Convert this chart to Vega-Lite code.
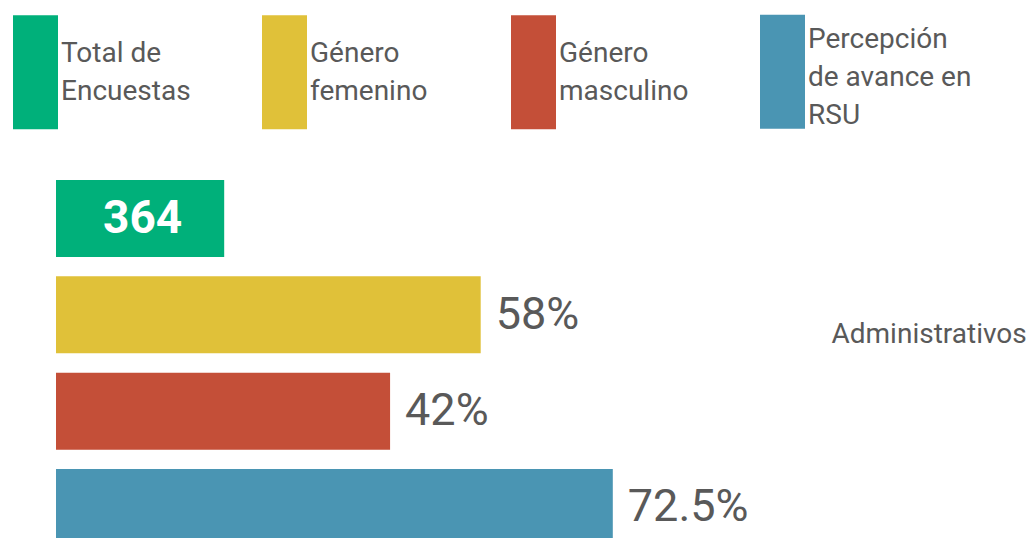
{
  "$schema": "https://vega.github.io/schema/vega-lite/v6.json",
  "width": 1030,
  "height": 358,
  "autosize": {"type": "none"},
  "padding": {"top": 180, "left": 0, "right": 0, "bottom": 0},
  "background": "white",
  "data": {
    "values": [
      {"grupo": "Administrativos", "serie": "Total de Encuestas", "largo": 21.9, "etiqueta": "364"},
      {"grupo": "Administrativos", "serie": "Género femenino", "largo": 55.3, "etiqueta": "58%"},
      {"grupo": "Administrativos", "serie": "Género masculino", "largo": 43.5, "etiqueta": "42%"},
      {"grupo": "Administrativos", "serie": "Percepción de avance en RSU", "largo": 72.5, "etiqueta": "72.5%"}
    ]
  },
  "encoding": {
    "y": {
      "field": "serie",
      "type": "nominal",
      "sort": null,
      "scale": {"range": [0, 366], "paddingInner": 0.2, "paddingOuter": 0},
      "axis": {
        "orient": "right",
        "labels": false,
        "ticks": false,
        "domain": false,
        "grid": false,
        "title": "Administrativos",
        "titleAngle": 0,
        "titleAlign": "left",
        "titleBaseline": "middle",
        "titleX": -199,
        "titleY": 154,
        "titleFont": "Roboto",
        "titleFontSize": 28,
        "titleFontWeight": "normal",
        "titleColor": "#595959"
      }
    },
    "x": {
      "field": "largo",
      "type": "quantitative",
      "axis": null,
      "scale": {"domain": [0, 100], "range": [56, 824]}
    }
  },
  "layer": [
    {
      "mark": {"type": "bar", "cornerRadius": 0},
      "encoding": {
        "color": {
          "field": "serie",
          "type": "nominal",
          "sort": null,
          "scale": {
            "domain": ["Total de Encuestas", "Género femenino", "Género masculino", "Percepción de avance en RSU"],
            "range": ["#00B07A", "#E0C139", "#C44F38", "#4A95B3"]
          },
          "legend": {
            "title": null,
            "orient": "none",
            "legendX": 13,
            "legendY": -150,
            "direction": "horizontal",
            "columns": 4,
            "gridAlign": "all",
            "columnPadding": 37,
            "padding": 0,
            "symbolType": "M-1,-1.689H1V3.378H-1Z",
            "symbolSize": 2025,
            "symbolStrokeWidth": 0,
            "symbolOpacity": 1,
            "labelFont": "Roboto",
            "labelFontSize": 28,
            "labelColor": "#595959",
            "labelOffset": 3,
            "labelLimit": 400,
            "labelExpr": "datum.label == 'Total de Encuestas' ? ['Total de', 'Encuestas'] : datum.label == 'Percepción de avance en RSU' ? ['Percepción', 'de avance en', 'RSU'] : split(datum.label, ' ')",
            "encode": {
              "labels": {
                "update": {
                  "lineHeight": {"value": 38},
                  "dy": {"signal": "datum.value == 'Percepción de avance en RSU' ? -13 : 1"}
                }
              }
            }
          }
        }
      }
    },
    {
      "transform": [{"filter": "datum.serie != 'Total de Encuestas'"}],
      "mark": {"type": "text", "align": "left", "baseline": "middle", "dx": 15, "font": "Roboto", "fontSize": 45, "color": "#595959"},
      "encoding": {"text": {"field": "etiqueta"}}
    },
    {
      "transform": [{"filter": "datum.serie == 'Total de Encuestas'"}],
      "mark": {"type": "text", "align": "right", "baseline": "middle", "dx": -42, "font": "Roboto", "fontWeight": "bold", "fontSize": 46, "color": "white"},
      "encoding": {"text": {"field": "etiqueta"}}
    }
  ],
  "config": {"view": {"stroke": null}}
}
